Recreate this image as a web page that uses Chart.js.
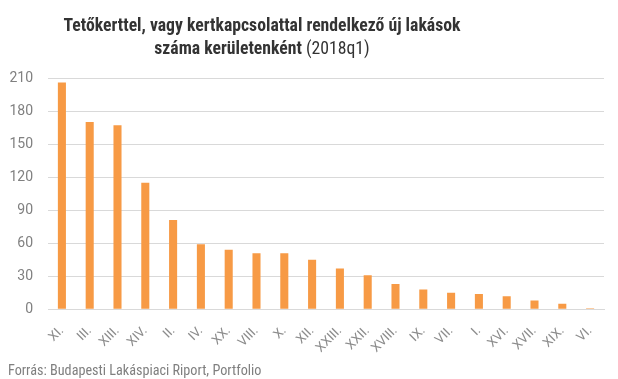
<!DOCTYPE html>
<html>
<head>
<meta charset="utf-8">
<script src="https://cdn.jsdelivr.net/npm/chart.js@4"></script>
<style>
  html, body { margin: 0; padding: 0; background: #fff; }
  #wrap { position: relative; width: 618px; height: 379px; overflow: hidden; }
  #c { position: absolute; left: 0; top: 0; }
  #title { position: absolute; left: 0; top: 14px; width: 524px; text-align: center;
           font-family: "Roboto Condensed", "Liberation Sans Narrow", Roboto, sans-serif;
           font-size: 17.7px; line-height: 23px; color: #333; }
  #title b { font-weight: 700; }
  #title span { font-weight: 400; }
  #src { position: absolute; left: 8px; top: 362px;
         font-family: "Roboto Condensed", "Liberation Sans Narrow", Roboto, sans-serif;
         font-size: 14.2px; color: #7f7f7f; }
</style>
</head>
<body>
<div id="wrap">
  <canvas id="c" width="618" height="379"></canvas>
  <div id="title"><b>Tetőkerttel, vagy kertkapcsolattal rendelkező új lakások<br>száma kerületenként</b> <span>(2018q1)</span></div>
  <div id="src">Forrás: Budapesti Lakáspiaci Riport, Portfolio</div>
</div>
<script>
const categories = ["XI.", "III.", "XIII.", "XIV.", "II.", "IV.", "XX.", "VIII.", "X.", "XII.",
                    "XXIII.", "XXII.", "XVIII.", "IX.", "VII.", "I.", "XVI.", "XVII.", "XIX.", "VI."];
const values = [206, 170, 167, 115, 81, 59, 54, 51, 51, 45,
                37, 31, 23, 18, 15, 14, 12, 8, 5, 1];
const yTicks = [0, 30, 60, 90, 120, 150, 180, 210];

new Chart(document.getElementById('c'), {
  type: 'bar',
  data: {
    labels: categories,
    datasets: [{
      data: values,
      backgroundColor: '#F79A45',
      borderWidth: 0,
      barPercentage: 0.29,
      categoryPercentage: 1.0
    }]
  },
  options: {
    responsive: false,
    animation: false,
    devicePixelRatio: 1,
    layout: { padding: { top: 78, right: 14, bottom: 9, left: 0 } },
    plugins: { legend: { display: false }, title: { display: false }, tooltip: { enabled: false } },
    scales: {
      x: {
        grid: { display: false, drawTicks: false },
        border: { display: true, color: '#D9D9D9', width: 1 },
        ticks: {
          color: '#8c8c8c', font: { family: 'Roboto', size: 13, weight: '400' },
          maxRotation: 45, minRotation: 45, padding: 14, autoSkip: false
        }
      },
      y: {
        min: 0, max: 210,
        afterBuildTicks: (axis) => { axis.ticks = yTicks.map(v => ({ value: v })); },
        afterFit: (axis) => { axis.width = 48; },
        grid: { color: '#D9D9D9', lineWidth: 1, drawTicks: false },
        border: { display: false },
        ticks: {
          color: '#808080', font: { family: 'Roboto', size: 14, weight: '400' },
          padding: 15
        }
      }
    }
  }
});
</script>
</body>
</html>
